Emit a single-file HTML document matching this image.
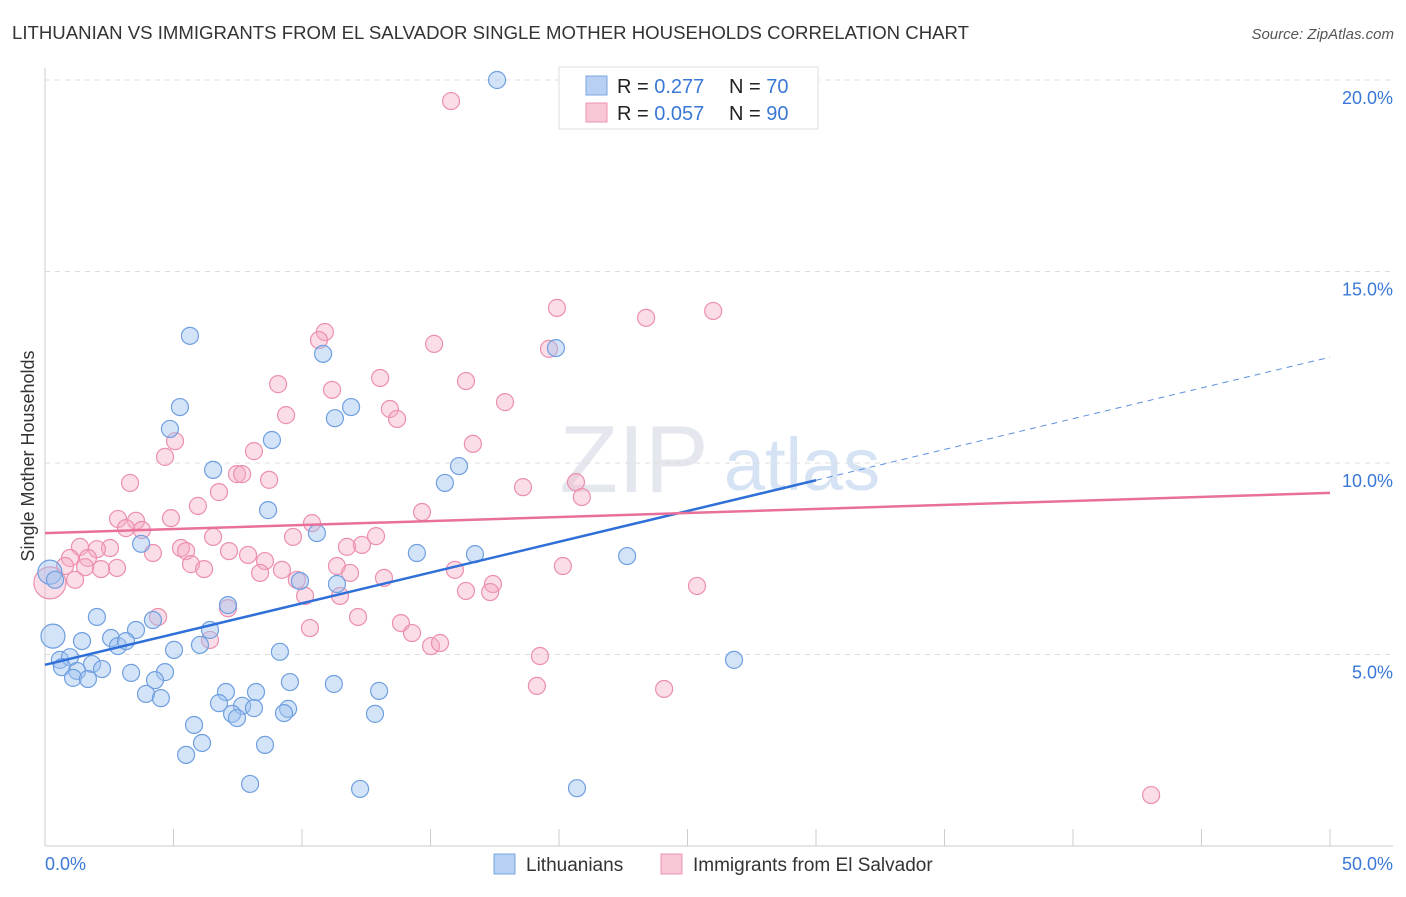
<!DOCTYPE html>
<html><head><meta charset="utf-8"><style>
body{margin:0;background:#fff;font-family:"Liberation Sans",sans-serif}
svg text{font-family:"Liberation Sans",sans-serif}
</style></head><body>
<svg id="chart" width="1406" height="892" viewBox="0 0 1406 892">
<text x="12" y="39" font-size="18.5" fill="#333" textLength="957" lengthAdjust="spacingAndGlyphs">LITHUANIAN VS IMMIGRANTS FROM EL SALVADOR SINGLE MOTHER HOUSEHOLDS CORRELATION CHART</text>
<text x="1394" y="39" font-size="15" fill="#555" font-style="italic" text-anchor="end">Source: ZipAtlas.com</text>
<text x="634" y="492" font-size="96" fill="#e4e8ee" font-family="Liberation Serif" text-anchor="middle">ZIP</text>
<text x="802" y="490" font-size="74" fill="#d6e3f4" text-anchor="middle">atlas</text>
<g id="grid"></g><g id="axes"></g><g id="pts"></g><g id="lines"></g>
<text transform="translate(34,456) rotate(-90)" font-size="18" fill="#333" text-anchor="middle">Single Mother Households</text>
<text x="45" y="870" font-size="18" fill="#3a78d6">0.0%</text>
<text x="1393" y="870" font-size="18" fill="#3a78d6" text-anchor="end">50.0%</text>
<g>
<rect x="559" y="67" width="259" height="62" fill="#fff" stroke="#ddd"/>
<rect x="586" y="76" width="21" height="19" fill="#b7d0f3" stroke="#7aa5e3"/>
<rect x="586" y="103" width="21" height="19" fill="#f9c6d5" stroke="#ee93b0"/>
<text x="617" y="93" font-size="20" fill="#222">R = <tspan fill="#3a78d6">0.277</tspan><tspan x="729">N = </tspan><tspan fill="#3a78d6">70</tspan></text>
<text x="617" y="120" font-size="20" fill="#222">R = <tspan fill="#3a78d6">0.057</tspan><tspan x="729">N = </tspan><tspan fill="#3a78d6">90</tspan></text>
</g>
<g>
<rect x="494" y="854" width="21" height="20" fill="#b7d0f3" stroke="#7aa5e3"/>
<text x="526" y="871" font-size="19" fill="#333">Lithuanians</text>
<rect x="661" y="854" width="21" height="20" fill="#f9c6d5" stroke="#ee93b0"/>
<text x="693" y="871" font-size="19" fill="#333">Immigrants from El Salvador</text>
</g>
</svg>
<script>
const yTicks=[5,10,15,20];
const xTickVals=[0,5,10,15,20,25,30,35,40,45,50];
const blueX=[17.59,5.64,10.82,19.88,5.25,11.91,11.28,4.86,8.83,16.11,6.54,15.56,8.68,10.58,3.74,14.47,16.73,22.65,0.19,0.39,9.92,11.36,7.12,2.02,4.2,3.54,6.42,0.31,1.44,2.57,2.84,3.15,6.03,5.02,9.14,0.58,0.97,1.83,0.66,1.25,2.22,3.35,4.67,1.09,1.67,4.28,9.53,11.24,3.93,7.04,8.21,13.0,4.51,6.77,7.67,8.13,9.46,7.28,7.47,9.3,12.84,5.8,6.11,8.56,5.49,26.81,7.98,12.26,20.7];
const blueY=[20.0,13.32,12.85,13.0,11.46,11.46,11.17,10.89,10.6,9.92,9.82,9.48,8.77,8.17,7.89,7.65,7.62,7.57,7.15,6.95,6.92,6.84,6.29,5.98,5.9,5.64,5.64,5.48,5.35,5.43,5.22,5.35,5.25,5.12,5.07,4.86,4.93,4.75,4.67,4.57,4.62,4.52,4.54,4.39,4.36,4.33,4.28,4.23,3.97,4.02,4.02,4.05,3.86,3.73,3.66,3.6,3.58,3.45,3.34,3.47,3.45,3.16,2.69,2.64,2.38,4.86,1.62,1.49,1.51];
const pinkX=[15.8,19.92,23.39,26.0,10.89,10.66,19.61,15.14,13.04,16.38,9.07,11.17,17.9,13.42,9.38,13.7,5.06,16.65,8.13,4.67,7.47,7.67,3.31,8.72,20.66,18.6,6.77,20.89,5.95,14.67,2.84,4.9,3.54,10.39,3.15,3.77,6.54,9.65,12.88,12.33,11.75,1.36,2.53,5.29,5.49,4.2,2.02,7.16,7.9,0.97,1.67,8.56,5.68,0.78,1.56,2.8,2.18,6.19,9.22,11.36,8.37,11.87,15.95,20.15,0.19,1.17,13.19,9.8,17.43,16.38,17.32,25.37,10.12,11.48,7.12,4.4,12.18,10.31,13.85,14.28,6.42,15.02,15.37,19.26,19.14,24.09,43.04];
const pinkY=[19.45,14.05,13.79,13.97,13.42,13.21,12.98,13.11,12.22,12.14,12.06,11.91,11.59,11.41,11.25,11.15,10.57,10.5,10.31,10.16,9.71,9.71,9.48,9.56,9.5,9.37,9.24,9.11,8.88,8.72,8.54,8.56,8.49,8.43,8.3,8.25,8.07,8.07,8.09,7.86,7.81,7.81,7.78,7.78,7.7,7.65,7.75,7.7,7.6,7.52,7.52,7.44,7.36,7.31,7.28,7.26,7.23,7.23,7.21,7.31,7.13,7.13,7.21,7.31,6.87,6.95,7.0,6.95,6.84,6.66,6.63,6.79,6.53,6.53,6.21,5.98,5.98,5.69,5.82,5.56,5.38,5.22,5.3,4.96,4.18,4.1,1.33];
const blueLargeIdx=[18,27];
const pinkLargeIdx=[64];
const blueTrend=[4.73,0.277];
const blueTrendEnd=[30,9.55];
const pinkTrend=[8.17,9.22];
const X=v=>45+v/50*1285;
const Y=v=>846-v/5*191.5;
const NS="http://www.w3.org/2000/svg";
function mk(tag,attrs,parent){const e=document.createElementNS(NS,tag);for(const k in attrs)e.setAttribute(k,attrs[k]);document.getElementById(parent).appendChild(e);return e;}
yTicks.forEach(t=>{
  const l=mk('line',{x1:45,x2:1393,y1:Y(t),y2:Y(t),stroke:'#ddd','stroke-dasharray':'5,5'},'grid');
  
  
  const tx=mk('text',{x:1393,y:Y(t)+24,'font-size':18,fill:'#3a78d6','text-anchor':'end'},'grid');
  tx.textContent=t.toFixed(1)+'%';
  
  
});
const ax=mk('line',{x1:45,x2:1393,y1:846,y2:846,stroke:'#ccc'},'axes');


const ay=mk('line',{x1:45,x2:45,y1:68,y2:846,stroke:'#ccc'},'axes');


xTickVals.forEach(t=>{
  const l=mk('line',{x1:X(t),x2:X(t),y1:829,y2:846,stroke:'#ccc'},'axes');
  
  
});
pinkX.forEach((v,i)=>{
  const r=pinkLargeIdx.includes(i)?16:8.5;
  const c=mk('circle',{cx:X(v),cy:Y(pinkY[i]),r:r,fill:'rgba(246,170,195,0.4)',stroke:'#ec8fae','stroke-width':1.2},'pts');
  
  
});
blueX.forEach((v,i)=>{
  const r=blueLargeIdx.includes(i)?12:8.5;
  const c=mk('circle',{cx:X(v),cy:Y(blueY[i]),r:r,fill:'rgba(160,195,240,0.45)',stroke:'#6f9fe0','stroke-width':1.2},'pts');
  
  
});
const slope=(blueTrendEnd[1]-blueTrend[0])/blueTrendEnd[0];
const bl=mk('line',{x1:X(0),y1:Y(blueTrend[0]),x2:X(blueTrendEnd[0]),y2:Y(blueTrendEnd[1]),stroke:'#2f6fd8','stroke-width':2.5},'lines');


const bd=mk('line',{x1:X(blueTrendEnd[0]),y1:Y(blueTrendEnd[1]),x2:X(50),y2:Y(blueTrend[0]+slope*50),stroke:'#5b8fe0','stroke-width':1,'stroke-dasharray':'6,5'},'lines');


const pl=mk('line',{x1:X(0),y1:Y(pinkTrend[0]),x2:X(50),y2:Y(pinkTrend[1]),stroke:'#e8709a','stroke-width':2.5},'lines');


</script>
</body></html>
